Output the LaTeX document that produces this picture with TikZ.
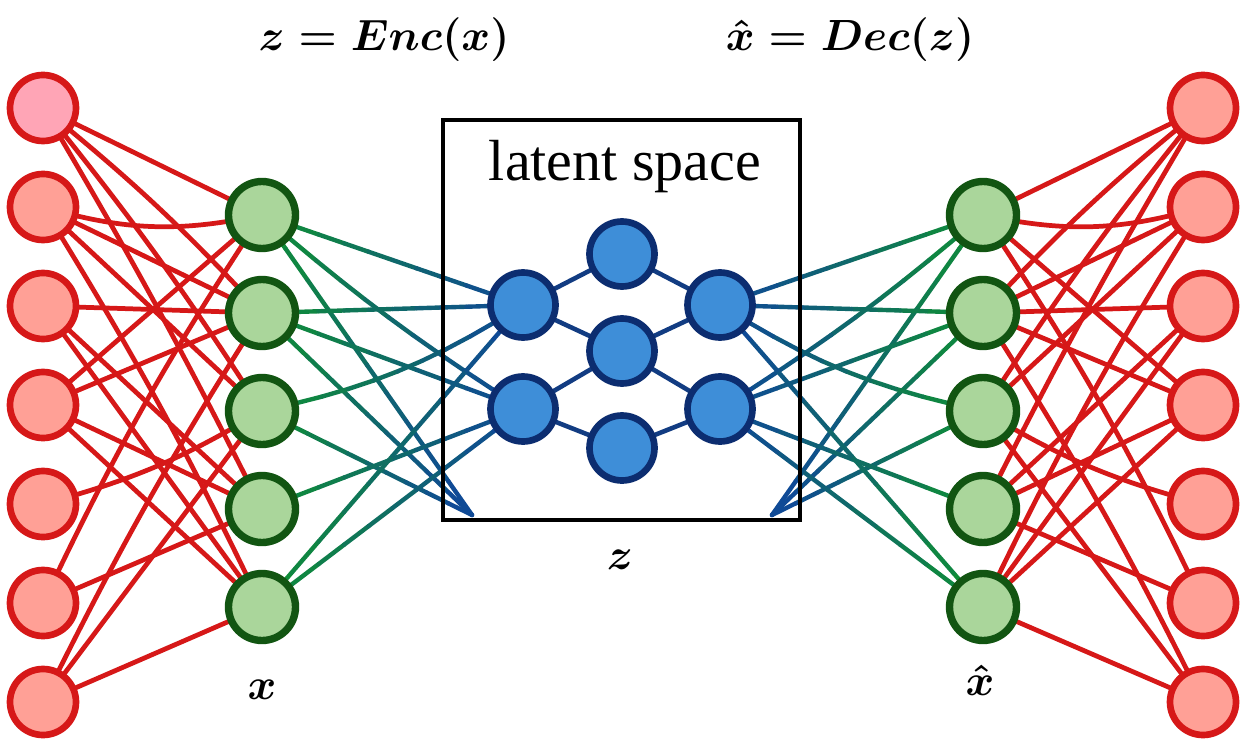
\documentclass[tikz,border=0pt]{standalone}
\usepackage{fontspec}
\newfontfamily\latfont{Liberation Serif}
\usetikzlibrary{calc,backgrounds}
\definecolor{redln}{RGB}{214,24,24}
\definecolor{redfill}{RGB}{255,160,150}
\definecolor{pinkfill}{RGB}{255,165,182}
\definecolor{greenfill}{RGB}{170,214,155}
\definecolor{greendraw}{RGB}{18,85,18}
\definecolor{bluefill}{RGB}{62,142,216}
\definecolor{bluedraw}{RGB}{12,45,112}
\definecolor{lgreen}{RGB}{15,145,50}
\definecolor{lblue}{RGB}{15,70,155}
\definecolor{navy}{RGB}{18,60,130}
\tikzset{
 rednode/.style={circle, draw=redln, fill=redfill, line width=3.8pt, minimum size=1.32cm, inner sep=0pt},
 greennode/.style={circle, draw=greendraw, fill=greenfill, line width=4.2pt, minimum size=1.34cm, inner sep=0pt},
 bluenode/.style={circle, draw=bluedraw, fill=bluefill, line width=3.8pt, minimum size=1.3cm, inner sep=0pt},
 redlink/.style={draw=redln, line width=2.7pt},
 navylink/.style={draw=navy, line width=2.6pt},
 gb/.style={line width=2.5pt, line cap=round},
 latentbox/.style={draw=black, line width=1.8pt},
 mathlbl/.style={font=\fontsize{33}{38}\selectfont\boldmath, inner sep=0pt},
 textlbl/.style={font=\fontsize{33}{38}\selectfont\latfont, inner sep=0pt},
}
\newcommand\gradlink[3]{%
  \path (#1.center) to[bend left={#3}] coordinate[pos=0.1] (q1) coordinate[pos=0.2] (q2) coordinate[pos=0.3] (q3) coordinate[pos=0.4] (q4) coordinate[pos=0.5] (q5) coordinate[pos=0.6] (q6) coordinate[pos=0.7] (q7) coordinate[pos=0.8] (q8) coordinate[pos=0.9] (q9) (#2.center);
  \coordinate (q0) at (#1.center);
  \coordinate (q10) at (#2.center);
  \foreach \k in {0,...,9}{%
    \pgfmathtruncatemacro\pc{\k*10+5}%
    \pgfmathtruncatemacro\kk{\k+1}%
    \draw[gb, draw=lblue!\pc!lgreen] (q\k) -- (q\kk);
  }%
}
\begin{document}
\begin{tikzpicture}[x=0.02cm,y=-0.02cm]
\useasboundingbox (0,0) rectangle (1253,746);
% titles
\node[mathlbl] (enc) at (384,40) {$z = Enc(x)$};
\node[mathlbl] (dec) at (850,40) {$\hat{x} = Dec(z)$};
% latent box
\draw[latentbox] (443,120) rectangle (800,520);
\node[textlbl] (lat) at (625,167) {latent space};
\coordinate (pl) at (472,515);
\coordinate (pr) at (772,515);
% red nodes
\node[rednode, fill=pinkfill] (r1) at (43,108) {};
\foreach \i/\yy in {2/207,3/306,4/405,5/504,6/603,7/702}
  \node[rednode] (r\i) at (43,\yy) {};
\foreach \i/\yy in {1/108,2/207,3/306,4/405,5/504,6/603,7/702}
  \node[rednode] (s\i) at (1203,\yy) {};
% green nodes
\foreach \i/\yy in {1/215,2/313,3/411,4/509,5/607}{
  \node[greennode] (g\i) at (262,\yy) {};
  \node[greennode] (h\i) at (983,\yy) {};
}
% blue nodes
\node[bluenode] (b1) at (523,305) {};
\node[bluenode] (b2) at (523,409) {};
\node[bluenode] (c1) at (622,254) {};
\node[bluenode] (c2) at (622,351) {};
\node[bluenode] (c3) at (622,448) {};
\node[bluenode] (d1) at (720,305) {};
\node[bluenode] (d2) at (720,409) {};
% labels
\node[mathlbl] (xl) at (262,690) {$x$};
\node[mathlbl] (xh) at (980,680) {$\hat{x}$};
\node[mathlbl] (zl) at (620,560) {$z$};
\begin{pgfonlayer}{background}
\fill[white] (0,0) rectangle (1253,746);
% red links
\foreach \a/\b/\bd in {1/1/0, 1/2/4, 1/3/3, 1/4/2, 2/1/-14, 2/2/0, 2/3/0, 2/5/3, 3/2/0, 3/4/0, 3/5/0, 4/1/0, 4/2/0, 4/4/0, 4/5/0, 5/3/-8, 6/1/4, 6/4/0, 7/2/3, 7/3/0, 7/5/0}{
  \pgfmathsetmacro\nb{-\bd}
  \draw[redlink] (r\a.center) to[bend left=\bd] (g\b.center);
  \draw[redlink] (s\a.center) to[bend left=\nb] (h\b.center);
}
% green-blue links
\foreach \g/\t/\bd in {g1/b1/0, g1/b2/-4, g1/pl/0, g2/b1/0, g2/b2/0, g2/pl/0, g3/b1/-10, g3/pl/0, g4/b2/0, g5/b1/0, g5/b2/0,
  h1/d1/0, h1/d2/4, h1/pr/0, h2/d1/0, h2/d2/0, h2/pr/0, h3/d1/10, h3/pr/0, h4/d2/0, h5/d1/0, h5/d2/0}{
  \gradlink{\g}{\t}{\bd}
}
% latent links
\foreach \u/\v in {b1/c1, b1/c2, b2/c2, b2/c3, c1/d1, c2/d1, c2/d2, c3/d2}
  \draw[navylink] (\u.center) -- (\v.center);
\end{pgfonlayer}
\end{tikzpicture}
\end{document}
